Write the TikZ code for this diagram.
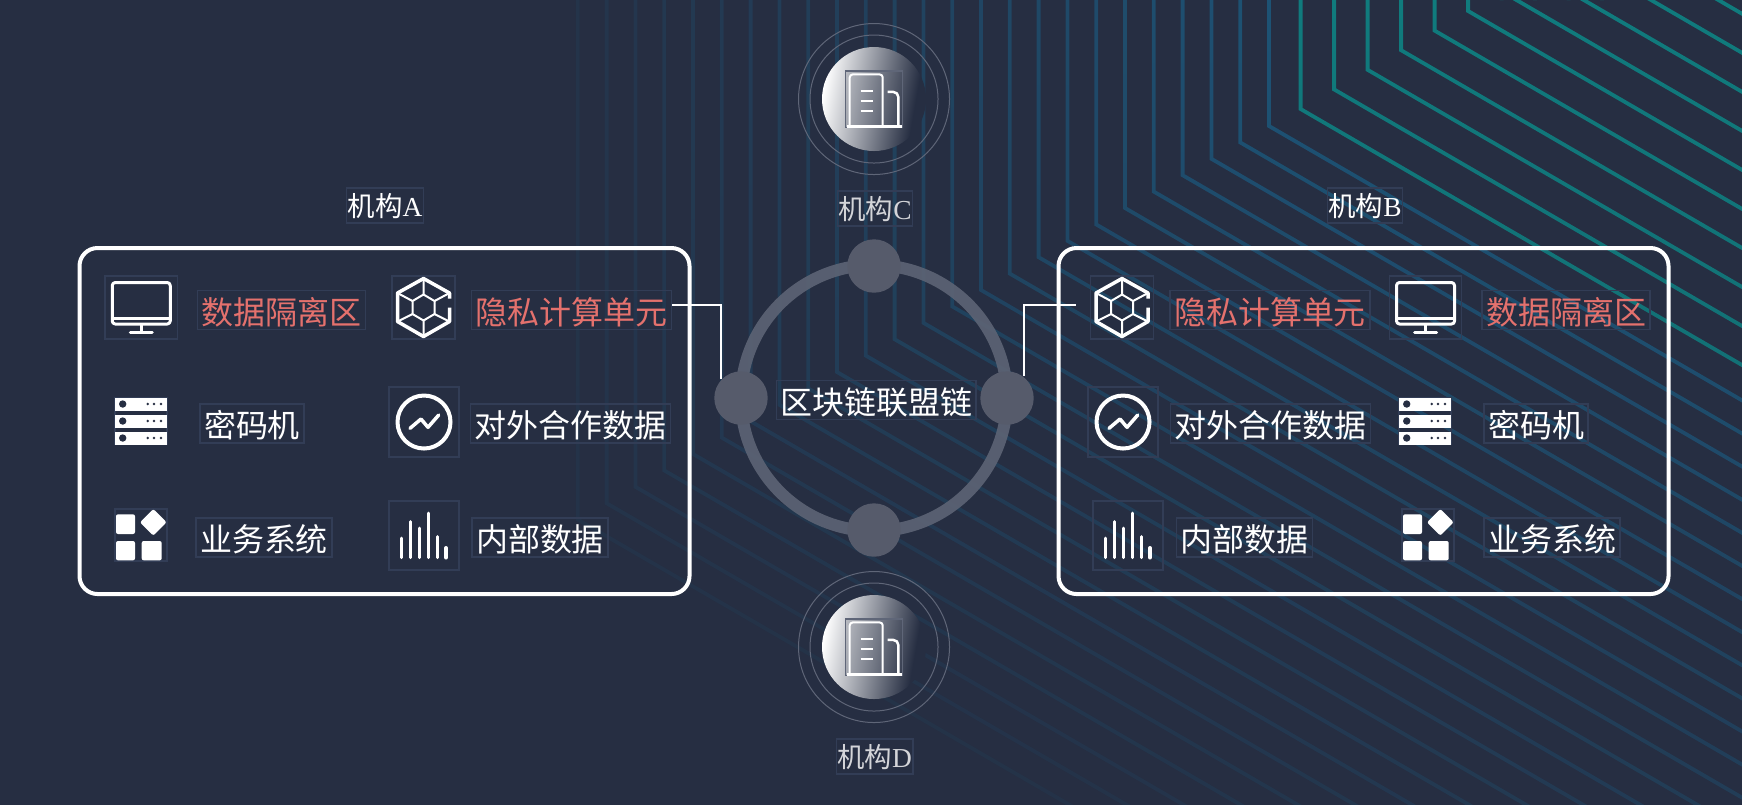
\documentclass[tikz,border=0pt]{standalone}
\usepackage{fontspec}
\setmainfont{Liberation Serif}
\newfontfamily\cjk{Noto Sans CJK SC}
\usetikzlibrary{fadings}
\definecolor{bgdark}{HTML}{262E42}
\definecolor{boxline}{HTML}{323D56}
\definecolor{lineblue}{HTML}{1D5375}
\definecolor{lineteal}{HTML}{107C7E}
\definecolor{chainfill}{HTML}{565B6B}
\definecolor{chainring}{HTML}{5C6374}
\definecolor{redtext}{HTML}{E4716D}
\definecolor{halo}{HTML}{5F6678}
\pgfdeclarehorizontalshading{discshade}{100bp}{color(0bp)=(white); color(25bp)=(white); color(70bp)=(bgdark); color(100bp)=(bgdark)}
\tikzfading[name=downfade, top color=transparent!100, bottom color=transparent!70]
\tikzset{
itemtext/.style={draw=boxline, inner xsep=.04cm, inner ysep=0, minimum height=.39cm, text height=.31cm, text depth=.03cm, text=white, font=\fontsize{9.1pt}{11pt}\cjk},
redtxt/.style={itemtext, text=redtext},
orgtext/.style={draw=boxline, inner xsep=.01cm, inner ysep=0, minimum height=.35cm, text height=.25cm, text depth=.04cm, text=white, font=\fontsize{7.8pt}{10pt}\selectfont},
graytxt/.style={orgtext, text=white!80!bgdark},
iconbox/.style={draw=boxline, inner sep=0},
orgbox/.style={draw=white, line width=.04cm, rounded corners=.18cm, minimum width=6.1cm, minimum height=3.46cm, inner sep=0},
chainpt/.style={shape=circle, fill=chainfill, minimum size=.534cm, inner sep=0},
haloring/.style={shape=circle, draw=halo, line width=.1mm, inner sep=0},
disc/.style={shape=circle, minimum size=1.04cm, inner sep=0, shading=discshade, shading angle=-10},
iconline/.style={draw=white, line width=.035cm, line join=round},
thinline/.style={draw=white, line width=.02cm, line join=round},
linkline/.style={draw=white, line width=.02cm},
bgline/.style={line width=.38mm},
monitorpic/.pic={
\draw[iconline, rounded corners=.03cm, line width=.03cm] (-.29,-.25) rectangle (.29,.165);
\draw[iconline, line width=.03cm] (-.29,.105)--(.29,.105);
\draw[iconline, line width=.03cm] (0,.165)--(0,.25);
\draw[iconline, line width=.03cm, line cap=round] (-.11,.25)--(.11,.25);
},
hexpic/.pic={
\draw[iconline] (.26,-.09)--(.26,-.145)--(0,-.29)--(-.26,-.145)--(-.26,.14)--(0,.29)--(.26,.14)--(.26,0);
\draw[thinline] (0,-.13)--(.11,-.065)--(.11,.065)--(0,.13)--(-.11,.065)--(-.11,-.065)--cycle;
\draw[thinline] (0,-.29)--(0,-.13) (-.26,-.145)--(-.11,-.065) (.26,-.145)--(.11,-.065);
\draw[thinline] (0,.29)--(0,.13) (-.26,.14)--(-.11,.065) (.26,.14)--(.11,.065);
},
serverpic/.pic={
\foreach \ry in {-.17,0,.17} {
\fill[white] (-.257,\ry-.065) rectangle (.257,\ry+.065);
\fill[bgdark] (-.183,\ry) circle (.037);
\foreach \rx in {.067,.13,.2} \fill[bgdark] (\rx,\ry) circle (.014);
}
},
chartpic/.pic={
\draw[iconline, line width=.04cm] (0,0) circle (.265);
\draw[iconline, line cap=round] (-.14,.063)--(-.03,-.03)--(.04,.053)--(.147,-.07);
},
appspic/.pic={
\fill[white, rounded corners=.02cm] (-.25,-.207) rectangle (-.06,-.01);
\fill[white, rounded corners=.02cm] (-.25,.06) rectangle (-.06,.253);
\fill[white, rounded corners=.02cm] (.007,.06) rectangle (.207,.253);
\fill[white, rounded corners=.02cm] (.123,-.26)--(.256,-.127)--(.123,.006)--(-.01,-.127)--cycle;
},
barspic/.pic={
\draw[iconline, line width=.03cm, line cap=round] (-.23,.22)--(-.23,.025);
\draw[iconline, line width=.03cm, line cap=round] (-.14,.22)--(-.14,-.14);
\draw[iconline, line width=.03cm, line cap=round] (-.05,.22)--(-.05,-.075);
\draw[iconline, line width=.03cm, line cap=round] (.04,.22)--(.04,-.225);
\draw[iconline, line width=.03cm, line cap=round] (.135,.22)--(.135,.01);
\draw[iconline, line width=.04cm, line cap=round] (.22,.22)--(.22,.125);
},
buildingpic/.pic={
\draw[thinline, rounded corners=.03cm] (-.243,.27)--(-.243,-.25)--(.087,-.25)--(.087,.27);
\draw[thinline, line width=.025cm] (-.273,.27)--(.277,.27);
\draw[thinline, line width=.025cm, rounded corners=.05cm] (.137,-.075)--(.243,-.075)--(.243,.27);
\foreach \dy in {-.083,.017,.117} \draw[thinline, line width=.025cm] (-.133,\dy)--(-.013,\dy);
}
}
\begin{document}
\begin{tikzpicture}[y=-1cm]
\useasboundingbox (0,0) rectangle (17.42,8.04);
\fill[bgdark] (-.2,-.2) rectangle (17.6,8.3);
\begin{scope}
\clip (-.1,-.1) rectangle (17.52,8.1);
\foreach \k in {0,...,24} {
\pgfmathsetmacro{\vx}{12.69-.288*\k}
\pgfmathsetmacro{\vy}{1.26+.164*\k}
\pgfmathsetmacro{\vm}{100-3.4*\k}
\draw[bgline, draw=lineblue!\vm!bgdark] (\vx,0)--(\vx,\vy)--(17.6,{\vy+.58*(17.6-\vx)});
}
\foreach \k in {0,...,9} {
\pgfmathsetmacro{\vx}{13.006+.335*\k}
\pgfmathsetmacro{\vy}{1.09-.196*\k}
\draw[bgline, draw=lineteal] (\vx,0)--(\vx,\vy)--(17.6,{\vy+.58*(17.6-\vx)});
}
\fill[bgdark, path fading=downfade] (-.2,-.2) rectangle (17.6,8.3);
\end{scope}

\node (ring) [shape=circle, draw=chainring, line width=.12cm, opacity=.92, minimum size=2.66cm, inner sep=0] at (8.74,3.98) {};
\node (ringT) [chainpt] at (8.74,2.66) {};
\node (ringL) [chainpt] at (7.41,3.98) {};
\node (ringR) [chainpt] at (10.07,3.98) {};
\node (ringB) [chainpt] at (8.74,5.30) {};
\node (chainname) [itemtext] at (8.762,4.0) {区块链联盟链};

\node (orgA) [orgbox] at (3.845,4.21) {};
\node (orgB) [orgbox] at (13.635,4.21) {};
\node (nameA) [orgtext] at (3.85,2.055) {{\cjk 机构}A};
\node (nameB) [orgtext] at (13.65,2.055) {{\cjk 机构}B};

\node (monA) [iconbox, minimum width=.725cm, minimum height=.63cm] at (1.4125,3.075) {};
\pic at (monA) {monitorpic};
\node (isoA) [redtxt] at (2.815,3.10) {数据隔离区};
\node (hexA) [iconbox, minimum width=.63cm, minimum height=.63cm] at (4.235,3.075) {};
\pic at (hexA) {hexpic};
\node (unitA) [redtxt] at (5.715,3.10) {隐私计算单元};
\node (srvA) [iconbox, minimum width=.52cm, minimum height=.46cm] at (1.41,4.21) {};
\pic at (srvA) {serverpic};
\node (keyA) [itemtext] at (2.52,4.235) {密码机};
\node (chartA) [iconbox, minimum width=.70cm, minimum height=.70cm] at (4.24,4.22) {};
\pic at (chartA) {chartpic};
\node (outA) [itemtext] at (5.705,4.235) {对外合作数据};
\node (appsA) [iconbox, minimum width=.52cm, minimum height=.52cm] at (1.41,5.35) {};
\pic at (appsA) {appspic};
\node (bizA) [itemtext] at (2.64,5.375) {业务系统};
\node (barsA) [iconbox, minimum width=.70cm, minimum height=.69cm] at (4.24,5.355) {};
\pic at (barsA) {barspic};
\node (innerA) [itemtext] at (5.40,5.375) {内部数据};

\node (hexB) [iconbox, minimum width=.63cm, minimum height=.63cm] at (11.22,3.075) {};
\pic at (hexB) {hexpic};
\node (unitB) [redtxt] at (12.70,3.10) {隐私计算单元};
\node (monB) [iconbox, minimum width=.725cm, minimum height=.63cm] at (14.255,3.075) {};
\pic at (monB) {monitorpic};
\node (isoB) [redtxt] at (15.66,3.10) {数据隔离区};
\node (chartB) [iconbox, minimum width=.70cm, minimum height=.70cm] at (11.23,4.22) {};
\pic at (chartB) {chartpic};
\node (outB) [itemtext] at (12.705,4.235) {对外合作数据};
\node (srvB) [iconbox, minimum width=.52cm, minimum height=.46cm] at (14.25,4.21) {};
\pic at (srvB) {serverpic};
\node (keyB) [itemtext] at (15.36,4.235) {密码机};
\node (barsB) [iconbox, minimum width=.70cm, minimum height=.69cm] at (11.28,5.355) {};
\pic at (barsB) {barspic};
\node (innerB) [itemtext] at (12.443,5.375) {内部数据};
\node (appsB) [iconbox, minimum width=.52cm, minimum height=.52cm] at (14.28,5.35) {};
\pic at (appsB) {appspic};
\node (bizB) [itemtext] at (15.52,5.375) {业务系统};

\coordinate (tapB) at (10.757,3.05);
\draw[linkline] ([yshift=.05cm]unitA.east) -| (ringL.136);
\draw[linkline] (ringR.52) |- (tapB);

\node (outerC) [haloring, minimum size=1.51cm] at (8.74,.99) {};
\node (innerC) [haloring, minimum size=1.28cm] at (8.74,.99) {};
\node (discC) [disc] at (8.74,.99) {};
\node (iconC) [iconbox, draw=halo, fill=bgdark, fill opacity=.15, minimum width=.566cm, minimum height=.567cm] at (8.74,.994) {};
\pic at (iconC) {buildingpic};
\node (nameC) [graytxt] at (8.75,2.085) {{\cjk 机构}C};

\node (outerD) [haloring, minimum size=1.51cm] at (8.74,6.47) {};
\node (innerD) [haloring, minimum size=1.28cm] at (8.74,6.47) {};
\node (discD) [disc] at (8.74,6.47) {};
\node (iconD) [iconbox, draw=halo, fill=bgdark, fill opacity=.15, minimum width=.566cm, minimum height=.567cm] at (8.74,6.474) {};
\pic at (iconD) {buildingpic};
\node (nameD) [graytxt] at (8.745,7.565) {{\cjk 机构}D};
\end{tikzpicture}
\end{document}
